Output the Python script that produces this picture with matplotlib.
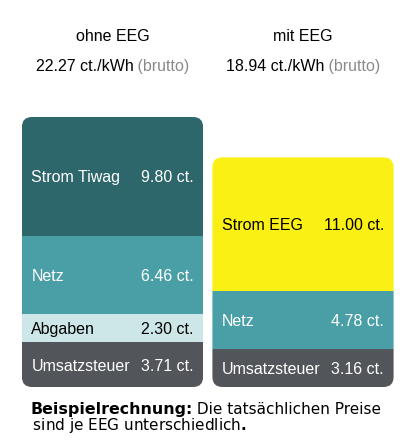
import matplotlib
matplotlib.use('Agg')
import matplotlib.pyplot as plt
from matplotlib.patches import FancyBboxPatch
from matplotlib.transforms import IdentityTransform

plt.rcParams['mathtext.fontset'] = 'dejavusans'

# ---------------- data ----------------
categories = ['ohne EEG', 'mit EEG']
price_labels = ['22.27 ct./kWh', '18.94 ct./kWh']
price_note = '(brutto)'

left_names = ['Umsatzsteuer', 'Abgaben', 'Netz', 'Strom Tiwag']
left_values = [3.71, 2.30, 6.46, 9.80]
right_names = ['Umsatzsteuer', 'Netz', 'Strom EEG']
right_values = [3.16, 4.78, 11.00]

footer_bold = 'Beispielrechnung:'
footer_rest1 = ' Die tatsächlichen Preise'
footer_rest2 = ' sind je EEG unterschiedlich'
footer_end = r'$\mathbf{.}$'

# ---------------- styles ----------------
seg_colors = {
    'Umsatzsteuer': '#525559',
    'Abgaben': '#cde7e8',
    'Netz': '#4a9fa6',
    'Strom Tiwag': '#2d666b',
    'Strom EEG': '#faf014',
}
dark_text = {'Abgaben', 'Strom EEG'}

W, H, DPI = 415, 448, 100
fig = plt.figure(figsize=(W / DPI, H / DPI), dpi=DPI)
fig.patch.set_facecolor('white')
ax = fig.add_axes([0, 0, 1, 1])
ax.axis('off')

# pixel <-> data mapping (layout)
cx0, step = 112.5, 190.5          # px center of first bar, px between bars
base_px, px_per_ct = 387.0, 12.124
ax.set_xlim(-cx0 / step, (W - cx0) / step)
ax.set_ylim(-(H - base_px) / px_per_ct, base_px / px_per_ct)

bar_w = 0.951
rad_px = 10
aspect = step / px_per_ct

FONT = 'Liberation Sans'
FS = 11.5

series = [(left_names, left_values), (right_names, right_values)]
for i, (names, vals) in enumerate(series):
    bottom = 0.0
    bars = []
    for name, v in zip(names, vals):
        b = ax.bar(i, v, bar_w, bottom=bottom, color=seg_colors[name],
                   linewidth=0, align='center')[0]
        bars.append(b)
        tc = 'black' if name in dark_text else 'white'
        ax.annotate(name, xy=(i - bar_w / 2, bottom + v / 2),
                    xytext=(9.5, -6), textcoords='offset pixels',
                    ha='left', va='baseline', fontsize=FS, family=FONT, color=tc)
        ax.annotate(f'{v:.2f} ct.', xy=(i + bar_w / 2, bottom + v / 2),
                    xytext=(-9.5, -6), textcoords='offset pixels',
                    ha='right', va='baseline', fontsize=FS, family=FONT, color=tc)
        bottom += v
    clip = FancyBboxPatch((i - bar_w / 2, 0), bar_w, bottom,
                          boxstyle=f'round,pad=0,rounding_size={rad_px / step}',
                          mutation_aspect=aspect, transform=ax.transData,
                          facecolor='none', edgecolor='none')
    ax.add_patch(clip)
    for b in bars:
        b.set_clip_path(clip)

fig.canvas.draw()
renderer = fig.canvas.get_renderer()


def runs_line(runs, x, y, align='left'):
    ts = [fig.text(0, y, s, transform=IdentityTransform(), ha='left',
                   va='baseline', **kw) for s, kw in runs]
    widths = [t.get_window_extent(renderer).width for t in ts]
    total = sum(widths)
    x0 = x - total / 2 if align == 'center' else x
    for t, w in zip(ts, widths):
        t.set_x(round(x0))
        x0 += w
    return ts


for i, (cat, price) in enumerate(zip(categories, price_labels)):
    cx = ax.transData.transform((i, 0))[0]
    fig.text(cx, H - 40.7, cat, transform=IdentityTransform(), ha='center',
             va='baseline', fontsize=FS, family=FONT, color='black')
    runs_line([(price, dict(fontsize=FS, family=FONT, color='black')),
               (' ' + price_note, dict(fontsize=FS, family=FONT, color='#8a8a8a'))],
              cx, H - 71, align='center')

FB, FR = 11.4, 11.0
runs_line([(footer_bold, dict(fontsize=FB, family='DejaVu Sans', weight='bold', color='black')),
           (footer_rest1, dict(fontsize=FR, family='DejaVu Sans', color='black'))],
          30, H - 414)
fig.text(28.5, H - 429.5, footer_rest2 + footer_end, transform=IdentityTransform(),
         ha='left', va='baseline', fontsize=FR, family='DejaVu Sans', color='black')

fig.savefig('out.png', dpi=DPI, facecolor='white')
